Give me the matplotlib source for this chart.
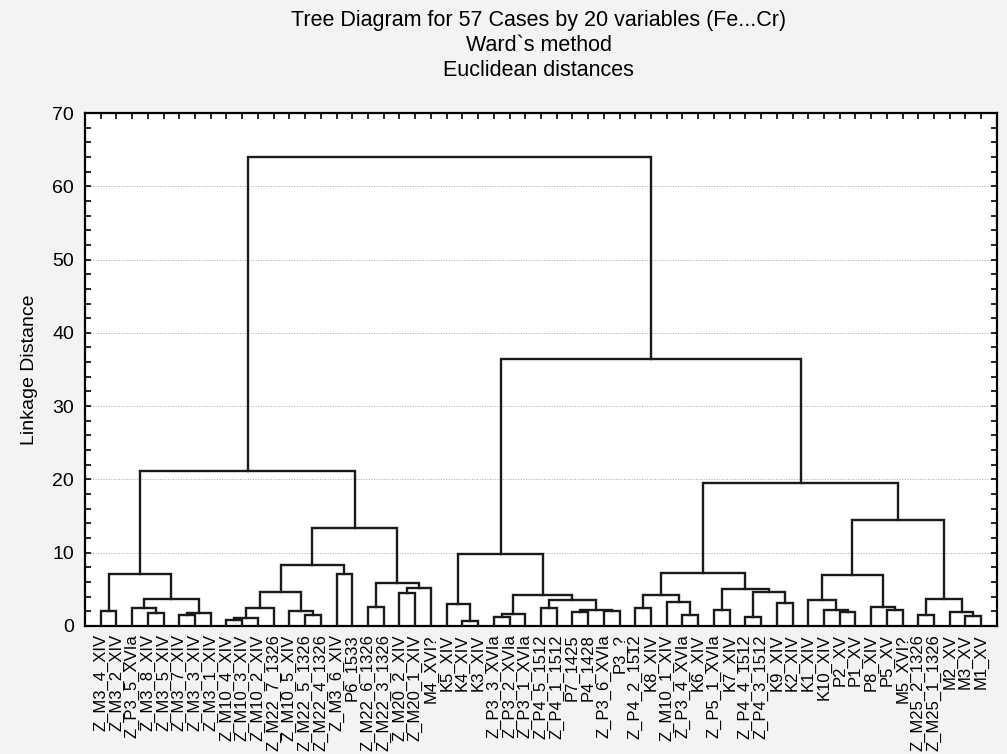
import matplotlib
matplotlib.use("Agg")
import matplotlib.pyplot as plt
from matplotlib.ticker import MultipleLocator, FixedLocator

plt.rcParams["font.family"] = ["Liberation Sans", "DejaVu Sans"]

# leaf order as drawn, left to right
leaf_labels = [
    "Z_M3_4_XIV", "Z_M3_2_XIV", "Z_P3_5_XVIa", "Z_M3_8_XIV", "Z_M3_5_XIV",
    "Z_M3_7_XIV", "Z_M3_3_XIV", "Z_M3_1_XIV", "Z_M10_4_XIV", "Z_M10_3_XIV",
    "Z_M10_2_XIV", "Z_M22_7_1326", "Z_M10_5_XIV", "Z_M22_5_1326", "Z_M22_4_1326",
    "Z_M3_6_XIV", "P6_1533", "Z_M22_6_1326", "Z_M22_3_1326", "Z_M20_2_XIV",
    "Z_M20_1_XIV", "M4_XVI?", "K5_XIV", "K4_XIV", "K3_XIV",
    "Z_P3_3_XVIa", "Z_P3_2_XVIa", "Z_P3_1_XVIa", "Z_P4_5_1512", "Z_P4_1_1512",
    "P7_1425", "P4_1428", "Z_P3_6_XVIa", "P3_?", "Z_P4_2_1512",
    "K8_XIV", "Z_M10_1_XIV", "Z_P3_4_XVIa", "K6_XIV", "Z_P5_1_XVIa",
    "K7_XIV", "Z_P4_4_1512", "Z_P4_3_1512", "K9_XIV", "K2_XIV",
    "K1_XIV", "K10_XIV", "P2_XV", "P1_XV", "P8_XIV",
    "P5_XV", "M5_XVI?", "Z_M25_2_1326", "Z_M25_1_1326", "M2_XV",
    "M3_XV", "M1_XV",
]

# linkage: node ids < 57 are leaves, merge k creates node 57 + k
merge_left = [
    0, 3, 2, 5, 60, 59, 57, 8, 64, 65, 13, 12, 66, 15, 69, 17, 19, 73, 72, 71,
    63, 23, 22, 25, 80, 28, 30, 32, 83, 82, 81, 79, 34, 37, 36, 89, 39, 41, 43,
    94, 93, 92, 47, 46, 45, 50, 49, 101, 52, 55, 54, 105, 104, 98, 88, 77,
]
merge_right = [
    1, 4, 58, 6, 7, 61, 62, 9, 10, 11, 14, 67, 68, 16, 70, 18, 20, 21, 74, 75,
    76, 24, 78, 26, 27, 29, 31, 33, 84, 85, 86, 87, 35, 38, 90, 91, 40, 42, 44,
    95, 96, 97, 48, 99, 100, 51, 102, 103, 53, 56, 106, 107, 108, 109, 110, 111,
]
merge_height = [
    2.0, 1.73, 2.46, 1.45, 1.73, 3.64, 7.05, 0.73, 1.09, 2.46, 1.45, 2.05, 4.55,
    7.05, 8.32, 2.55, 4.46, 5.14, 5.82, 13.3, 21.1, 0.68, 3.0, 1.14, 1.64, 2.46,
    1.82, 1.96, 2.18, 3.55, 4.23, 9.82, 2.5, 1.5, 3.23, 4.14, 2.18, 1.18, 3.18,
    4.55, 5.0, 7.18, 1.82, 2.18, 3.5, 2.18, 2.55, 6.91, 1.5, 1.36, 1.82, 3.64,
    14.46, 19.5, 36.4, 64.0,
]

fig = plt.figure(figsize=(10.07, 7.54), dpi=100, facecolor="#f3f3f3")
ax = fig.add_axes([0.0844, 0.170, 0.9056, 0.680])
ax.set_facecolor("white")

n = len(leaf_labels)
xpos = {i: i + 1 for i in range(n)}
ypos = {i: 0.0 for i in range(n)}
for k, (a, b, h) in enumerate(zip(merge_left, merge_right, merge_height)):
    xa, xb = xpos[a], xpos[b]
    ax.plot([xa, xa, xb, xb], [ypos[a], h, h, ypos[b]], color="#1a1a1a",
            lw=1.7, solid_joinstyle="miter", zorder=3)
    xpos[n + k] = (xa + xb) / 2
    ypos[n + k] = h

ax.set_xlim(0, n + 1)
ax.set_ylim(0, 70)
ax.xaxis.set_major_locator(FixedLocator(range(1, n + 1)))
ax.set_xticklabels(leaf_labels, rotation=90, fontsize=12, va="top")
ax.yaxis.set_major_locator(MultipleLocator(10))
ax.yaxis.set_minor_locator(MultipleLocator(2))
ax.tick_params(axis="both", which="both", direction="in", top=True, right=True,
               length=4, width=1.2, colors="black")
ax.tick_params(axis="y", labelsize=14, pad=8)
ax.tick_params(axis="x", pad=6)
ax.grid(axis="y", which="major", linestyle=":", color="#aaaaaa", lw=0.7)
for s in ax.spines.values():
    s.set_linewidth(1.6)

ax.set_ylabel("Linkage Distance", fontsize=14, labelpad=10)
fig.text(0.535, 0.973, "Tree Diagram for 57 Cases by 20 variables (Fe...Cr)",
         ha="center", va="center", fontsize=15.5)
fig.text(0.535, 0.940, "Ward`s method", ha="center", va="center", fontsize=15.5)
fig.text(0.535, 0.907, "Euclidean distances", ha="center", va="center", fontsize=15.5)

fig.savefig("out.png", dpi=100, facecolor=fig.get_facecolor())
